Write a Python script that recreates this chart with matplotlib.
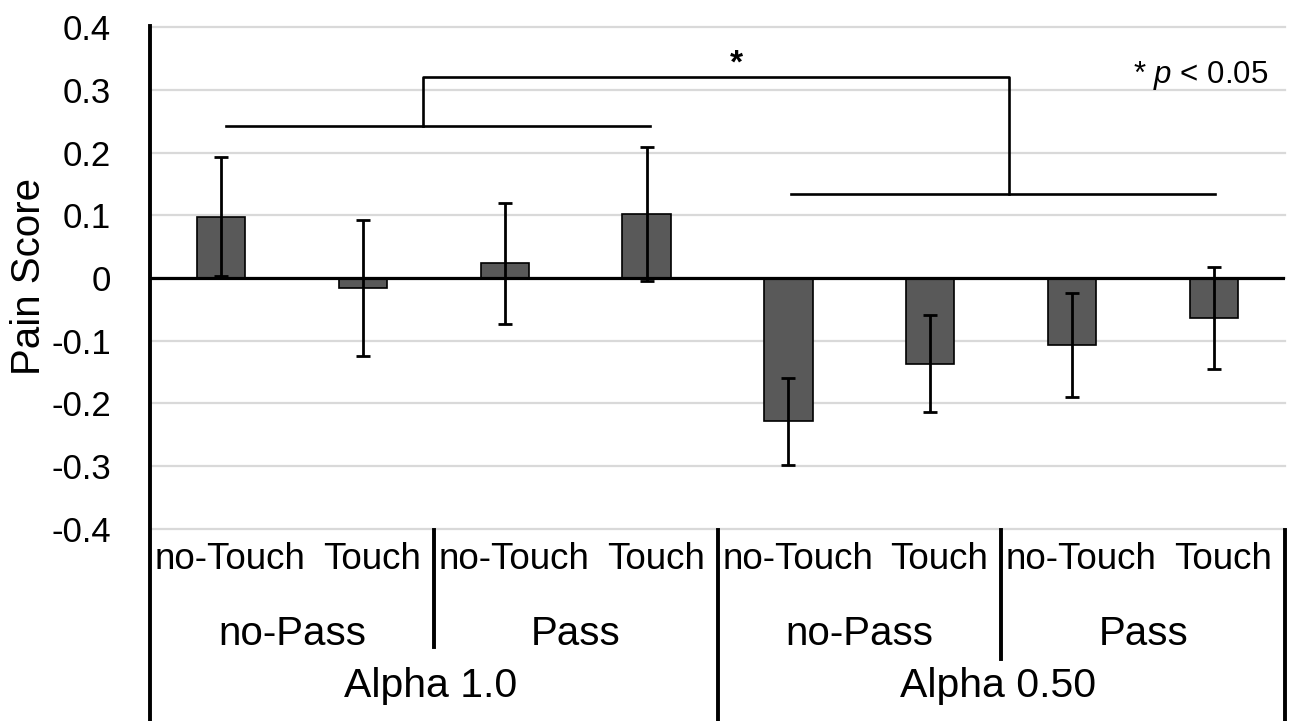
import numpy as np
import matplotlib
matplotlib.use('Agg')
import matplotlib.pyplot as plt
import matplotlib.transforms as mtransforms
from matplotlib.lines import Line2D

plt.rcParams['font.family'] = ['Liberation Sans', 'DejaVu Sans']
plt.rcParams['mathtext.fontset'] = 'custom'
plt.rcParams['mathtext.rm'] = 'Liberation Sans'
plt.rcParams['mathtext.it'] = 'Liberation Sans:italic'

# data
touch_labels = ['no-Touch', 'Touch', 'no-Touch', 'Touch',
                'no-Touch', 'Touch', 'no-Touch', 'Touch']
pass_labels = ['no-Pass', 'Pass', 'no-Pass', 'Pass']
alpha_labels = ['Alpha 1.0', 'Alpha 0.50']
means = [0.098, -0.016, 0.023, 0.102, -0.229, -0.137, -0.107, -0.064]
errs = [0.095, 0.109, 0.096, 0.107, 0.070, 0.077, 0.083, 0.082]

# significance bracket (data coords)
left_bar = [0.036, 3.024, 0.242]      # x0, x1, y
right_bar = [4.015, 7.005, 0.134]
top_bar = [1.422, 5.553, 0.321]
star_x = 3.63

W, H = 1293, 721
fig = plt.figure(figsize=(W / 100, H / 100), dpi=100)
ax = fig.add_axes([150 / W, 1 - 528.5 / H, 1135 / W, 501.2 / H])

x = np.arange(len(means))
ax.bar(x, means, width=0.34, color='#595959', edgecolor='black',
       linewidth=1.2, zorder=2)
ax.errorbar(x, means, yerr=errs, fmt='none', ecolor='black',
            elinewidth=2, capsize=5, capthick=2, zorder=4)
ax.axhline(0, color='black', lw=2.3, zorder=3)

ax.set_xlim(-0.5, 7.5)
ax.set_ylim(-0.4, 0.4)
ticks = np.arange(-4, 5) / 10
ax.set_yticks(ticks)
ax.set_yticklabels(['0' if abs(t) < 1e-9 else f'{t:.1f}' for t in ticks])
ax.tick_params(axis='y', length=0, pad=28, labelsize=25)
ax.set_xticks([])
for s in ax.spines.values():
    s.set_visible(False)
ax.set_axisbelow(True)
ax.yaxis.grid(True, color='#d9d9d9', lw=1.6)
for gl in ax.get_ygridlines():
    gl.set_clip_on(False)

# brackets
lw_b = 1.9
ax.plot([left_bar[0], left_bar[1]], [left_bar[2]] * 2, color='black', lw=lw_b)
ax.plot([right_bar[0], right_bar[1]], [right_bar[2]] * 2, color='black', lw=lw_b)
ax.plot([top_bar[0], top_bar[0], top_bar[1], top_bar[1]],
        [left_bar[2], top_bar[2], top_bar[2], right_bar[2]],
        color='black', lw=lw_b)

trans = mtransforms.blended_transform_factory(ax.transData, fig.transFigure)
ax.text(star_x, 1 - 73 / H, '*', transform=trans, ha='center', va='baseline',
        fontsize=24, fontweight='bold')
fig.text(1268 / W, 1 - 83.3 / H, '* $p$ < 0.05', ha='right', va='baseline',
         fontsize=22.5)

# left spine and category separators
def vline(xd, y0px, y1px, lw=2.8):
    fig.add_artist(Line2D([xd, xd], [1 - y0px / H, 1 - y1px / H],
                          transform=trans, color='black', lw=lw))

vline(-0.5, 26, H, lw=2.8)
vline(1.5, 530, 647)
vline(3.5, 530, H)
vline(5.5, 530, 659)
vline(7.5, 530, H)

# multi-level category labels
for i, lab in enumerate(touch_labels):
    ax.text(i + 0.065, 1 - 569.3 / H, lab, transform=trans, ha='center',
            va='baseline', fontsize=26.5)
for i, lab in enumerate(pass_labels):
    ax.text(2 * i + 0.5, 1 - 645 / H, lab, transform=trans, ha='center',
            va='baseline', fontsize=29)
for i, lab in enumerate(alpha_labels):
    ax.text(4 * i + 1.48, 1 - 696.7 / H, lab, transform=trans, ha='center',
            va='baseline', fontsize=29.5)

fig.text(29 / W, 1 - 276 / H, 'Pain Score', rotation=90, ha='center',
         va='center', fontsize=29)

fig.savefig('out.png', dpi=100)
